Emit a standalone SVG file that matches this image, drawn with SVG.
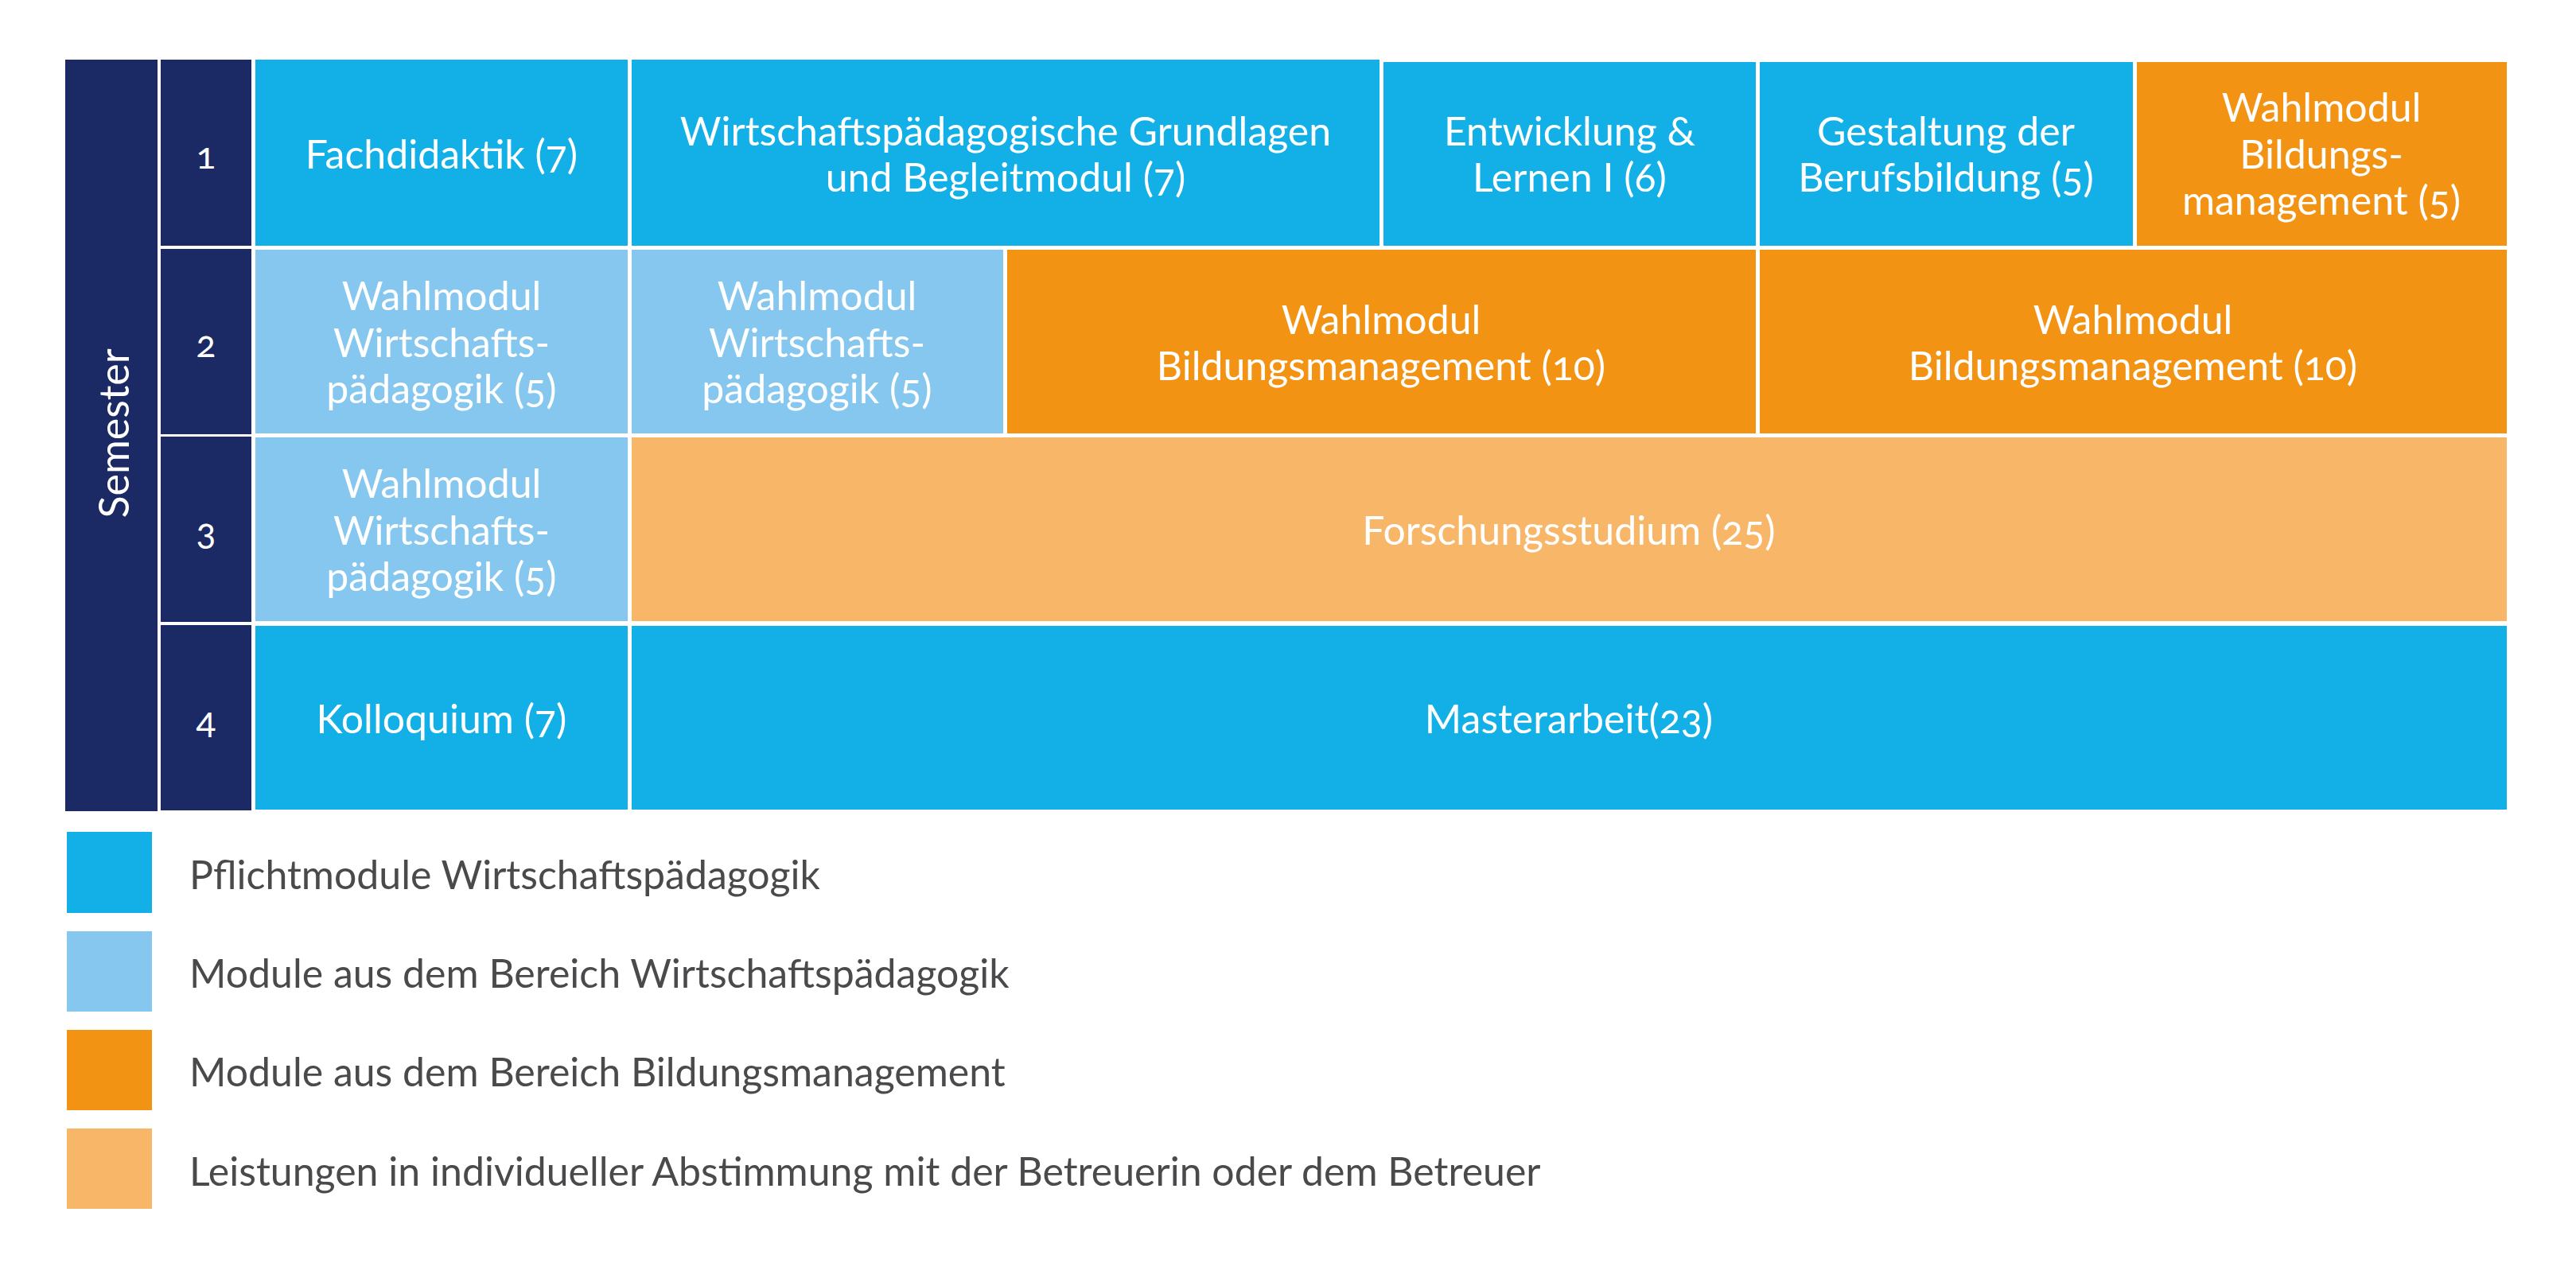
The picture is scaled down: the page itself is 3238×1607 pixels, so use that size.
<svg xmlns="http://www.w3.org/2000/svg" width="3238" height="1607" viewBox="0 0 3238 1607">
<style>
.navy{fill:#1B2A64}
.blue{fill:#12B0E6}
.lblue{fill:#86C7EF}
.orange{fill:#F39314}
.lorange{fill:#F8B668}
text{font-family:Lato,"Open Sans","Liberation Sans",sans-serif;font-variant-numeric:oldstyle-nums}
.t{fill:#FFFFFF;font-size:50px;text-anchor:middle}
.n{fill:#FFFFFF;font-size:46px;text-anchor:middle}
.s{fill:#FFFFFF;font-size:52px;text-anchor:middle}
.lg{fill:#4A4A4C;font-size:50px}
</style>
<rect width="3238" height="1607" fill="#FFFFFF"/>
<g id="semester"><rect class="navy" x="82" y="75" width="116" height="945"/><text class="s" transform="translate(162,545) rotate(-90)">Semester</text></g>
<g id="sem1"><rect class="navy" x="202" y="75" width="114" height="234"/><text class="n" x="259" y="212">1</text></g>
<g id="sem2"><rect class="navy" x="202" y="313" width="114" height="233"/><text class="n" x="259" y="449">2</text></g>
<g id="sem3"><rect class="navy" x="202" y="549" width="114" height="233"/><text class="n" x="259" y="685">3</text></g>
<g id="sem4"><rect class="navy" x="202" y="786" width="114" height="233"/><text class="n" x="259" y="922">4</text></g>

<g id="fachdidaktik"><rect class="blue" x="321" y="75" width="468" height="234"/><text class="t" x="555" y="212">Fachdidaktik (7)</text></g>
<g id="grundlagen"><rect class="blue" x="794" y="75" width="940" height="234"/><text class="t" x="1264" y="183">Wirtschaftspädagogische Grundlagen</text><text class="t" x="1264" y="241">und Begleitmodul (7)</text></g>
<g id="entwicklung"><rect class="blue" x="1739" y="78" width="468" height="231"/><text class="t" x="1973" y="183">Entwicklung &amp;</text><text class="t" x="1973" y="241">Lernen I (6)</text></g>
<g id="gestaltung"><rect class="blue" x="2212" y="78" width="469" height="231"/><text class="t" x="2446" y="183">Gestaltung der</text><text class="t" x="2446" y="241">Berufsbildung (5)</text></g>
<g id="wahl-bm-1"><rect class="orange" x="2686" y="78" width="465" height="231"/><text class="t" x="2918" y="153">Wahlmodul</text><text class="t" x="2918" y="212">Bildungs-</text><text class="t" x="2918" y="270">management (5)</text></g>

<g id="wahl-wp-2a"><rect class="lblue" x="321" y="314" width="468" height="231"/><text class="t" x="555" y="390">Wahlmodul</text><text class="t" x="555" y="449">Wirtschafts-</text><text class="t" x="555" y="507">pädagogik (5)</text></g>
<g id="wahl-wp-2b"><rect class="lblue" x="794" y="314" width="467" height="231"/><text class="t" x="1027" y="390">Wahlmodul</text><text class="t" x="1027" y="449">Wirtschafts-</text><text class="t" x="1027" y="507">pädagogik (5)</text></g>
<g id="wahl-bm-2a"><rect class="orange" x="1266" y="314" width="941" height="231"/><text class="t" x="1736" y="420">Wahlmodul</text><text class="t" x="1736" y="478">Bildungsmanagement (10)</text></g>
<g id="wahl-bm-2b"><rect class="orange" x="2212" y="314" width="939" height="231"/><text class="t" x="2681" y="420">Wahlmodul</text><text class="t" x="2681" y="478">Bildungsmanagement (10)</text></g>

<g id="wahl-wp-3"><rect class="lblue" x="321" y="550" width="468" height="231"/><text class="t" x="555" y="626">Wahlmodul</text><text class="t" x="555" y="685">Wirtschafts-</text><text class="t" x="555" y="743">pädagogik (5)</text></g>
<g id="forschung"><rect class="lorange" x="794" y="550" width="2357" height="231"/><text class="t" x="1972" y="685">Forschungsstudium (25)</text></g>

<g id="kolloquium"><rect class="blue" x="321" y="787" width="468" height="231"/><text class="t" x="555" y="922">Kolloquium (7)</text></g>
<g id="masterarbeit"><rect class="blue" x="794" y="787" width="2357" height="231"/><text class="t" x="1972" y="922">Masterarbeit(23)</text></g>

<g id="legend">
<g id="legend-1"><rect class="blue" x="84" y="1046" width="107" height="102"/><text class="lg" x="238" y="1118">Pflichtmodule Wirtschaftspädagogik</text></g>
<g id="legend-2"><rect class="lblue" x="84" y="1171" width="107" height="101"/><text class="lg" x="238" y="1242">Module aus dem Bereich Wirtschaftspädagogik</text></g>
<g id="legend-3"><rect class="orange" x="84" y="1295" width="107" height="101"/><text class="lg" x="238" y="1366">Module aus dem Bereich Bildungsmanagement</text></g>
<g id="legend-4"><rect class="lorange" x="84" y="1419" width="107" height="101"/><text class="lg" x="238" y="1491">Leistungen in individueller Abstimmung mit der Betreuerin oder dem Betreuer</text></g>
</g>
<g id="connectors"/>
</svg>
